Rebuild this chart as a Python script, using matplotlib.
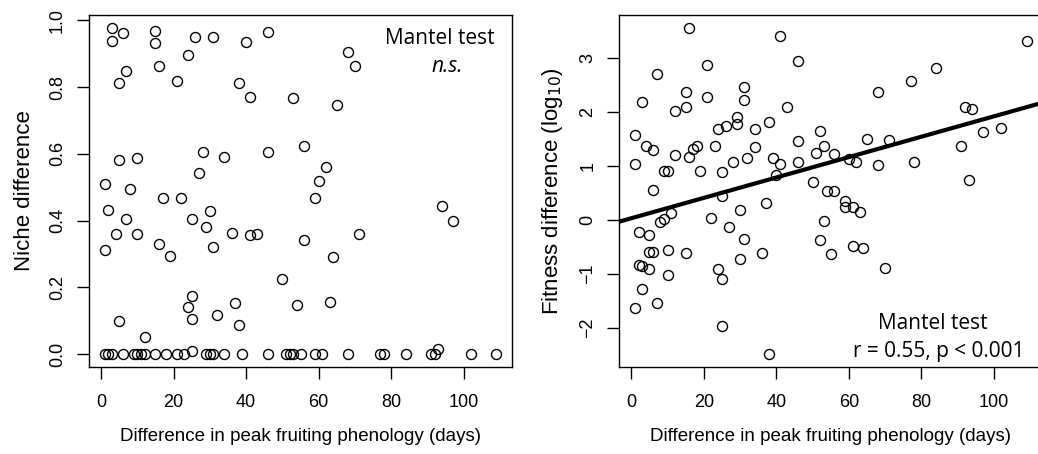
import numpy as np
import matplotlib.pyplot as plt

# left panel: niche difference vs difference in peak fruiting (days)
niche_days = [3, 3, 6, 15, 15, 26, 31, 40, 46, 24, 7, 5, 16, 21, 38, 41,
              5, 10, 28, 34, 46, 27, 1, 8, 17, 22, 2, 30, 7, 25, 29,
              68, 70, 53, 65, 56, 62, 60, 59, 94, 97,
              4, 10, 1, 16, 19, 31, 36, 41, 43, 50, 25, 24, 25, 5, 32, 37, 38, 12, 25,
              56, 71, 64, 54, 63, 93,
              1, 2, 3, 6, 9, 10, 11, 12, 15, 18, 21, 23, 29, 30, 31, 34, 39, 46,
              51, 52, 53, 55, 59, 61, 68, 77, 78, 84, 91, 92, 102, 109]
niche_diff = [0.977, 0.938, 0.963, 0.968, 0.932, 0.949, 0.949, 0.934, 0.966, 0.897,
              0.847, 0.812, 0.864, 0.818, 0.811, 0.771,
              0.581, 0.587, 0.604, 0.591, 0.605, 0.542, 0.509, 0.494, 0.468, 0.468,
              0.432, 0.428, 0.405, 0.404, 0.382,
              0.905, 0.863, 0.766, 0.745, 0.624, 0.559, 0.517, 0.468, 0.444, 0.398,
              0.359, 0.359, 0.313, 0.330, 0.294, 0.320, 0.362, 0.356, 0.360, 0.224,
              0.173, 0.142, 0.105, 0.099, 0.118, 0.154, 0.088, 0.050, 0.010,
              0.341, 0.361, 0.290, 0.147, 0.157, 0.015] + [0.0] * 32

# right panel: fitness difference (log10) vs difference in peak fruiting (days)
fit_days = [16, 7, 21, 3, 15, 15, 12, 21, 31, 31, 41, 46, 43, 1, 4, 6, 1, 6, 9, 10,
            12, 16, 17, 18, 23, 24, 26, 29, 29, 34, 38, 34, 19, 25, 28, 32, 39, 41, 40,
            46, 46, 51, 52, 50, 25, 37, 30, 22, 11, 9, 8, 27, 2, 5, 31, 52, 5, 6, 10,
            15, 30, 36, 2, 3, 5, 10, 24, 25, 3, 7, 1, 25, 38,
            109, 84, 77, 68, 92, 94, 97, 102, 91, 93, 78, 71, 65, 68, 62, 60, 56, 53,
            54, 56, 59, 59, 61, 63, 53, 55, 61, 64, 70]
fit_diff = [3.554, 2.696, 2.868, 2.188, 2.373, 2.084, 2.015, 2.280, 2.466, 2.219,
            3.411, 2.942, 2.084, 1.576, 1.372, 1.292, 1.033, 0.545, 0.908, 0.897,
            1.205, 1.168, 1.316, 1.366, 1.372, 1.687, 1.743, 1.898, 1.774, 1.687,
            1.811, 1.348, 0.897, 0.890, 1.070, 1.138, 1.138, 1.027, 0.834,
            1.459, 1.075, 1.237, 1.650, 0.705, 0.439, 0.304, 0.180, 0.037, 0.119,
            0.013, -0.043, -0.141, -0.222, -0.278, -0.352, -0.380, -0.593, -0.593,
            -0.568, -0.611, -0.723, -0.624, -0.840, -0.858, -0.914, -1.032, -0.914,
            -1.100, -1.279, -1.539, -1.637, -1.971, -2.490,
            3.319, 2.807, 2.571, 2.367, 2.084, 2.047, 1.632, 1.706, 1.366, 0.730,
            1.070, 1.472, 1.502, 1.020, 1.075, 1.131, 1.224, 1.366,
            0.538, 0.526, 0.347, 0.235, 0.235, 0.137, -0.030, -0.630, -0.494, -0.531,
            -0.902]

# fitted line as drawn in the figure
fit_intercept = 0.027
fit_slope = 0.0189

x_ticks = [0, 20, 40, 60, 80, 100]
niche_ticks = [0.0, 0.2, 0.4, 0.6, 0.8, 1.0]
fit_ticks = [-2, -1, 0, 1, 2, 3]


def r_lim(v):
    # R-style 4% padding
    lo, hi = min(v), max(v)
    d = (hi - lo) * 0.04
    return lo - d, hi + d


plt.rcParams['font.family'] = ['Liberation Sans', 'DejaVu Sans']
fig = plt.figure(figsize=(10.38, 4.54), dpi=100)
W, H = 1038, 454
ax1 = fig.add_axes([89 / W, (H - 367) / H, 423 / W, 352 / H])
ax2 = fig.add_axes([619.3 / W, (H - 367) / H, 423 / W, 352 / H])

pt = dict(ls='none', marker='o', mfc='none', mec='black', ms=7.2, mew=1.0)
ax1.plot(niche_days, niche_diff, **pt)
ax2.plot(fit_days, fit_diff, **pt)
ax2.axline((0, fit_intercept), slope=fit_slope, color='black', lw=3.0)

for ax, yv, yt, fmt in [(ax1, niche_diff, niche_ticks, '{:.1f}'),
                        (ax2, fit_diff, fit_ticks, '{:g}')]:
    ax.set_xlim(r_lim(niche_days))
    ax.set_ylim(r_lim(yv))
    ax.set_xticks(x_ticks)
    ax.set_yticks(yt)
    ax.set_yticklabels([fmt.format(t).replace('-', '\u2212') for t in yt],
                       rotation=90, va='center')
    ax.tick_params(direction='out', length=8.5, width=1.0, labelsize=13, color='black')
    ax.tick_params(axis='x', pad=11)
    ax.tick_params(axis='y', pad=8)
    for s in ax.spines.values():
        s.set_linewidth(1.0)
    ax.set_xlabel('Difference in peak fruiting phenology (days)', fontsize=13.5, labelpad=12)

ax1.set_ylabel('Niche difference', fontsize=16, labelpad=10)
ax2.set_ylabel('Fitness difference (log$_{10}$)', fontsize=16, labelpad=10)

ann = dict(family=['Open Sans', 'DejaVu Sans'], fontsize=15, ha='center', va='baseline')
ax1.text(0.83, 0.918, 'Mantel test', transform=ax1.transAxes, **ann)
ax1.text(0.846, 0.838, 'n.s.', style='italic', transform=ax1.transAxes, **ann)
ax2.text(0.742, 0.108, 'Mantel test', transform=ax2.transAxes, **ann)
ax2.text(0.756, 0.029, 'r = 0.55, p < 0.001', transform=ax2.transAxes, **ann)

fig.savefig('out.png', dpi=100)
